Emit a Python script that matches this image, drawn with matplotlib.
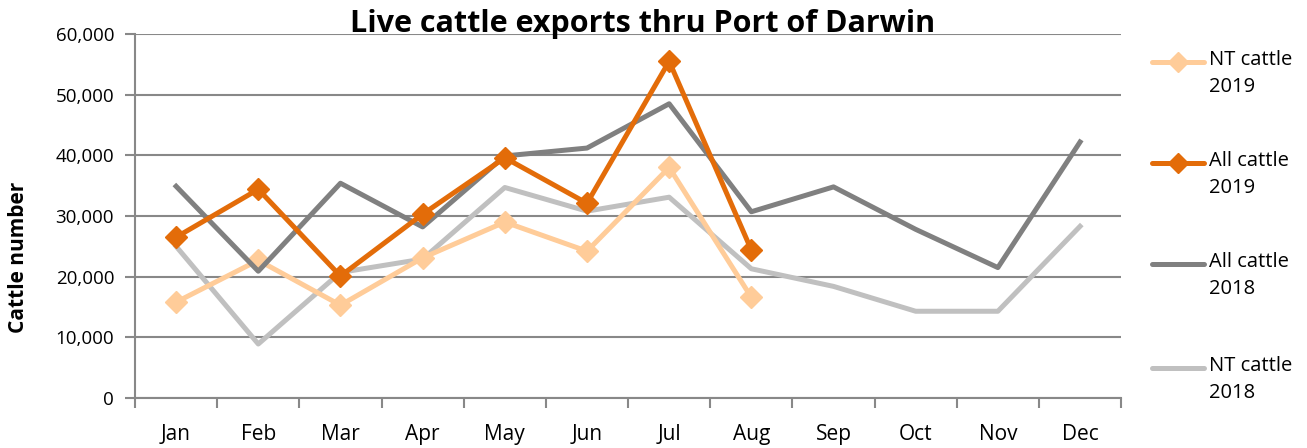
import matplotlib.pyplot as plt
from matplotlib.lines import Line2D
from matplotlib.ticker import FuncFormatter

months = ["Jan", "Feb", "Mar", "Apr", "May", "Jun", "Jul", "Aug", "Sep", "Oct", "Nov", "Dec"]

nt_2019 = [15800, 22700, 15300, 23100, 29000, 24200, 38000, 16600]
all_2019 = [26500, 34400, 20100, 30300, 39600, 32100, 55500, 24400]
all_2018 = [34900, 20900, 35400, 28200, 39900, 41200, 48500, 30700, 34800, 27800, 21500, 42200]
nt_2018 = [25000, 8900, 20700, 22900, 34700, 30800, 33100, 21300, 18400, 14300, 14300, 28300]

plt.rcParams['font.family'] = ['Open Sans', 'DejaVu Sans']

fig = plt.figure(figsize=(13.07, 4.48), dpi=100)
ax = fig.add_axes([0.1033, 0.1116, 0.7545, 0.8125])

x = range(len(months))
series = [
    ("NT cattle\n2019", nt_2019, "#FFCC99", "D", 3),
    ("All cattle\n2019", all_2019, "#E36C09", "D", 4),
    ("All cattle\n2018", all_2018, "#808080", None, 3),
    ("NT cattle\n2018", nt_2018, "#C0C0C0", None, 2),
]
for label, vals, col, mk, z in series:
    ax.plot(x[:len(vals)], vals, color=col, lw=3.6, marker=mk, ms=11, label=label, zorder=z)

ax.set_xlim(-0.5, len(months) - 0.5)
ax.set_ylim(0, 60000)
ax.set_yticks(range(0, 60001, 10000))
ax.yaxis.set_major_formatter(FuncFormatter(lambda v, p: f"{int(v):,}"))
ax.set_xticks(list(x))
ax.set_xticklabels(months, fontsize=15)
ax.set_xticks([i + 0.5 for i in range(-1, len(months))], minor=True)
ax.tick_params(axis="x", which="major", length=0, pad=19)
ax.tick_params(axis="x", which="minor", length=7, width=1.5, color="#888888")
ax.tick_params(axis="y", length=7, width=1.5, color="#888888", labelsize=13.5, pad=8)

ax.grid(axis="y", color="#888888", lw=1.5)
ax.set_axisbelow(True)
for s in ["top", "right"]:
    ax.spines[s].set_visible(False)
for s in ["left", "bottom"]:
    ax.spines[s].set_color("#888888")
    ax.spines[s].set_linewidth(1.5)

ax.set_ylabel("Cattle number", fontsize=15, fontweight="bold")
ax.yaxis.set_label_coords(-0.108, 0.385)
fig.text(0.492, 0.946, "Live cattle exports thru Port of Darwin", ha="center", va="center",
         fontsize=22, fontweight="bold")

# legend drawn by hand so the line sits beside the first text line, like the original
leg_y = [62, 163, 264, 368]
H = 448.0
W = 1307.0
for (label, vals, col, mk, z), yp in zip(series, leg_y):
    yf = 1 - yp / H
    fig.add_artist(Line2D([1152 / W, 1204 / W], [yf, yf], transform=fig.transFigure,
                          color=col, lw=3.6, solid_capstyle="round"))
    if mk:
        fig.add_artist(Line2D([1178 / W], [yf], transform=fig.transFigure, color=col,
                              marker=mk, ms=10, lw=0))
    fig.text(1209 / W, yf + 12 / H, label, ha="left", va="top", fontsize=14.5,
             linespacing=1.45)

fig.savefig("out.png", dpi=100)
